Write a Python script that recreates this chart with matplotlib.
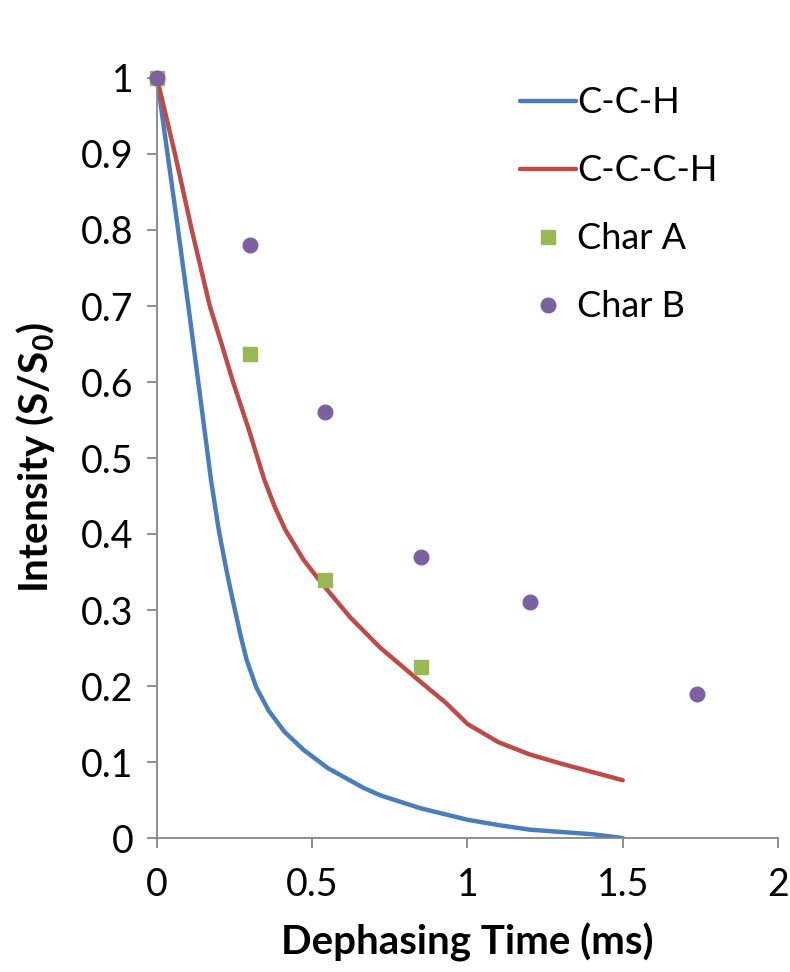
import matplotlib
matplotlib.use("Agg")
import matplotlib.pyplot as plt

# ---- data ----
cch_t = [0.0, 0.034, 0.068, 0.101, 0.132, 0.153, 0.174, 0.199, 0.219, 0.235,
         0.251, 0.27, 0.289, 0.32, 0.359, 0.41, 0.472, 0.55, 0.665, 0.72,
         0.85, 1.0, 1.1, 1.2, 1.3, 1.4, 1.5]
cch_i = [1.0, 0.9, 0.8, 0.7, 0.603, 0.537, 0.471, 0.405, 0.362, 0.33,
         0.3, 0.265, 0.234, 0.198, 0.168, 0.14, 0.116, 0.092, 0.066, 0.056,
         0.039, 0.024, 0.017, 0.011, 0.008, 0.005, 0.0]

ccch_t = [0.0, 0.058, 0.112, 0.17, 0.208, 0.245, 0.296, 0.346, 0.38, 0.414,
          0.472, 0.529, 0.623, 0.72, 0.85, 0.93, 1.0, 1.1, 1.2, 1.3, 1.4, 1.5]
ccch_i = [1.0, 0.9, 0.8, 0.7, 0.65, 0.6, 0.537, 0.471, 0.435, 0.405,
          0.366, 0.336, 0.29, 0.25, 0.205, 0.178, 0.15, 0.126, 0.11, 0.098,
          0.087, 0.076]

char_a_t = [0.0, 0.3, 0.54, 0.85]
char_a_i = [1.0, 0.637, 0.34, 0.225]

char_b_t = [0.0, 0.3, 0.54, 0.85, 1.2, 1.74]
char_b_i = [1.0, 0.78, 0.56, 0.37, 0.31, 0.19]

x_ticks = [0, 0.5, 1, 1.5, 2]
x_labels = ["0", "0.5", "1", "1.5", "2"]
y_ticks = [0, 0.1, 0.2, 0.3, 0.4, 0.5, 0.6, 0.7, 0.8, 0.9, 1]
y_labels = ["0", "0.1", "0.2", "0.3", "0.4", "0.5", "0.6", "0.7", "0.8", "0.9", "1"]

BLUE = "#4a7ebb"
RED = "#be4b48"
GREEN = "#98b954"
PURPLE = "#7d60a0"
AXIS = "#868686"

plt.rcParams.update({
    "font.family": ["Lato", "DejaVu Sans"],
    "mathtext.default": "regular",
    "font.size": 27,
})

fig = plt.figure(figsize=(7.9, 9.72), dpi=100)
ax = fig.add_axes([157 / 790, 1 - 838 / 972, (778 - 157) / 790, (838 - 78) / 972])

line_kw = dict(lw=3.2, solid_capstyle="round", solid_joinstyle="round")
ax.plot(cch_t, cch_i, color=BLUE, label="C-C-H", **line_kw)
ax.plot(ccch_t, ccch_i, color=RED, label="C-C-C-H", **line_kw)
ax.plot(char_a_t, char_a_i, ls="none", marker="s", ms=10.5, color=GREEN,
        mec=GREEN, clip_on=False, label="Char A", zorder=3)
ax.plot(char_b_t, char_b_i, ls="none", marker="o", ms=10.5, color=PURPLE,
        mec=PURPLE, clip_on=False, label="Char B", zorder=4)

ax.set_xlim(0, 2)
ax.set_ylim(0, 1)
ax.set_xticks(x_ticks, x_labels)
ax.set_yticks(y_ticks, y_labels)

for s in ("top", "right"):
    ax.spines[s].set_visible(False)
for s in ("left", "bottom"):
    ax.spines[s].set_color(AXIS)
    ax.spines[s].set_linewidth(1.3)
ax.tick_params(direction="out", length=7, width=1.3, color=AXIS, labelsize=27)
ax.tick_params(axis="x", pad=14)
ax.tick_params(axis="y", pad=10)

ax.set_xlabel("Dephasing Time (ms)", fontsize=29, fontweight="bold", labelpad=14)
ax.set_ylabel("Intensity (S/S$_0$)", fontsize=29, fontweight="bold", labelpad=17)

ax.legend(loc="upper left", bbox_to_anchor=(0.585, 0.989), frameon=False,
          fontsize=26, handlelength=1.55, handletextpad=0.02, labelspacing=0.97,
          borderaxespad=0, borderpad=0)

fig.savefig("out.png", dpi=100)
